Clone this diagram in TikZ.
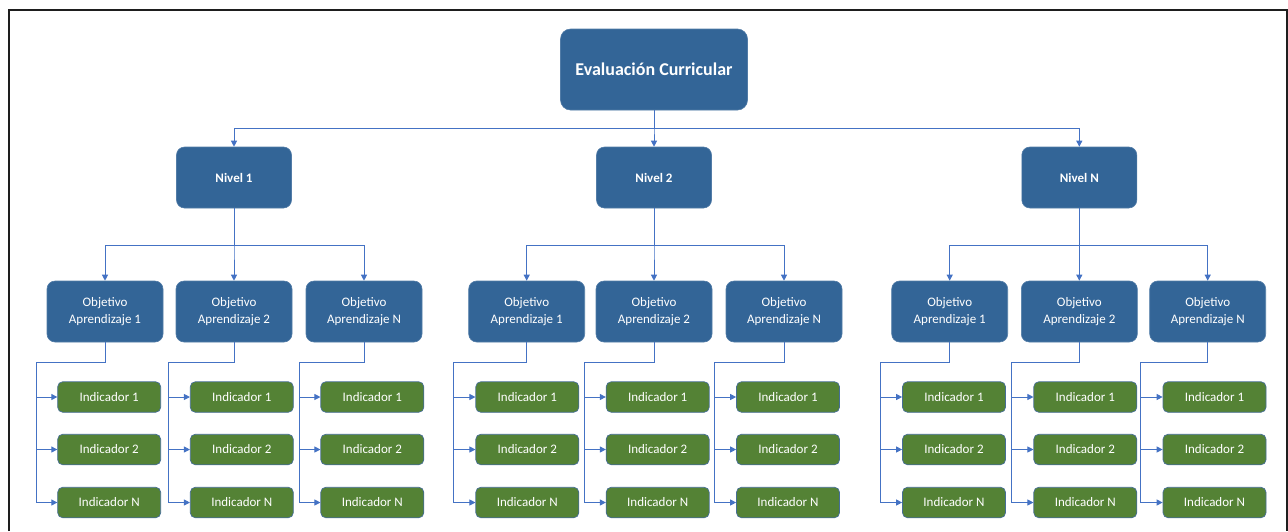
\documentclass[tikz,border=0pt]{standalone}
\usepackage{fontspec}
\setmainfont{Carlito}
\usetikzlibrary{arrows.meta}
\definecolor{nodeblue}{RGB}{51,101,151}
\definecolor{nodegreen}{RGB}{84,130,53}
\definecolor{linkblue}{RGB}{68,114,196}
\definecolor{greenedge}{RGB}{70,110,150}
\definecolor{frameblack}{RGB}{30,30,30}
\begin{document}
\begin{tikzpicture}[x=1pt,y=-1pt,
  topbox/.style={rectangle, rounded corners=10pt, fill=nodeblue, draw=nodeblue!85!white, line width=0.6pt,
    text=white, font=\bfseries\fontsize{18}{22}\selectfont, minimum width=187pt, minimum height=81pt, inner sep=0pt},
  nivbox/.style={rectangle, rounded corners=8pt, fill=nodeblue, draw=nodeblue!85!white, line width=0.6pt,
    text=white, font=\bfseries\fontsize{13}{16}\selectfont, minimum width=115pt, minimum height=61pt, inner sep=0pt},
  objbox/.style={rectangle, rounded corners=8pt, fill=nodeblue, draw=nodeblue!85!white, line width=0.6pt,
    text=white, align=center, font=\fontsize{13}{17}\selectfont, minimum width=116pt, minimum height=61pt, inner sep=0pt},
  indbox/.style={rectangle, rounded corners=5pt, fill=nodegreen, draw=greenedge, line width=0.7pt,
    text=white, font=\fontsize{13}{16}\selectfont, minimum width=103pt, minimum height=30.5pt, inner sep=0pt},
  link/.style={draw=linkblue, line width=1pt},
  arr/.style={link, -{Triangle[length=6pt,width=6pt]}}
]
\useasboundingbox (0,0) rectangle (1288,531);
\draw[frameblack, line width=2pt] (9,531) -- (9,10) -- (1286.5,10) -- (1286.5,531);

\coordinate (busA) at (0,128);
\coordinate (busB) at (0,245);
\coordinate (busC) at (0,362);

\node[topbox] (top) at (654,69.5) {Evaluación Curricular};

\foreach \g/\nx/\nl in {1/234/1, 2/654/2, 3/1079.3/N} {
  \node[nivbox] (n\g) at (\nx,177.5) {Nivel \nl};
  \draw[arr] (top.south) -- (top.south |- busA) -| (n\g.north);
}

\foreach \g/\j/\cx/\vx/\ix/\ol in {
  1/1/105/36.7/109.2/1, 1/2/234/168.7/241.8/2, 1/3/364/299.3/372.3/N,
  2/1/526.7/453.7/527.3/1, 2/2/654/584.3/657.7/2, 2/3/784/714.3/788/N,
  3/1/949.7/880.3/954/1, 3/2/1079.3/1011.7/1085.3/2, 3/3/1207.7/1140.7/1214.5/N} {
  \node[objbox] (o\g\j) at (\cx,311.5) {Objetivo\\Aprendizaje \ol};
  \draw[arr] (n\g.south) -- (n\g.south |- busB) -| (o\g\j.north);
  \coordinate (v\g\j) at (\vx,362);
  \foreach \k/\ky/\il in {1/397/1, 2/449.5/2, 3/502.5/N} {
    \node[indbox] (i\g\j\k) at (\ix,\ky) {Indicador \il};
    \draw[arr] (v\g\j |- i\g\j\k.west) -- (i\g\j\k.west);
  }
  \draw[link] (o\g\j.south) -- (o\g\j.south |- busC) -- (v\g\j) -- (v\g\j |- i\g\j3.west);
}
\end{tikzpicture}
\end{document}
